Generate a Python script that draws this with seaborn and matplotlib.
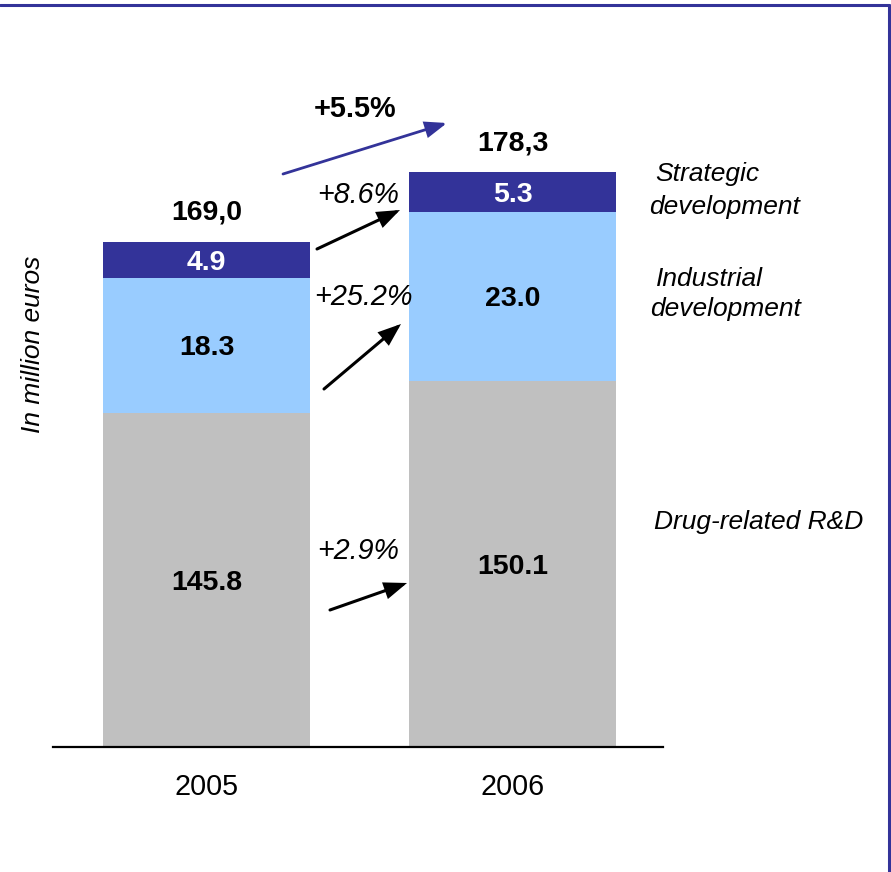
import matplotlib
matplotlib.use("Agg")
import matplotlib.pyplot as plt
from matplotlib.patches import FancyArrowPatch
from matplotlib.lines import Line2D
import seaborn as sns
import pandas as pd
import numpy as np

# ---- data ----
years = ["2005", "2006"]
drug_rd = [145.8, 150.1]
industrial = [18.3, 23.0]
strategic = [4.9, 5.3]
total_labels = ["169,0", "178,3"]
growth_total = "+5.5%"
growth_strategic = "+8.6%"
growth_industrial = "+25.2%"
growth_drug = "+2.9%"
series_names = ["Strategic", "development", "Industrial", "development", "Drug-related R&D"]

C_GREY = "#C0C0C0"
C_LIGHT = "#99CCFF"
C_DARK = "#333399"

sns.set_theme(style="white")
plt.rcParams['font.family'] = ['Liberation Sans', 'DejaVu Sans']

W, H = 891, 872
fig = plt.figure(figsize=(W / 100, H / 100), dpi=100)

# axes placement in pixels
ax_left, ax_right, ax_bottom, ax_top = 53, 663, 747, 60
ax = fig.add_axes([ax_left / W, (H - ax_bottom) / H,
                   (ax_right - ax_left) / W, (ax_bottom - ax_top) / H])

df = pd.DataFrame({"year": years, "drug": drug_rd, "ind": industrial, "strat": strategic})
df["c1"] = df["drug"]
df["c2"] = df["drug"] + df["ind"]
df["c3"] = df["c2"] + df["strat"]

bw = 0.676
sns.barplot(data=df, x="year", y="c3", color=C_DARK, saturation=1, width=bw,
            linewidth=0, ax=ax)
sns.barplot(data=df, x="year", y="c2", color=C_LIGHT, saturation=1, width=bw,
            linewidth=0, ax=ax)
sns.barplot(data=df, x="year", y="c1", color=C_GREY, saturation=1, width=bw,
            linewidth=0, ax=ax)

# truncated value axis (the chart starts well above zero)
px_per_unit = 7.38
y0 = 100.54
ax.set_ylim(y0, y0 + (ax_bottom - ax_top) / px_per_unit)
ax.set_xlim(-0.502, 1.492)

for s in ["top", "right", "left"]:
    ax.spines[s].set_visible(False)
ax.spines["bottom"].set_color("black")
ax.spines["bottom"].set_linewidth(1.6)
ax.set_yticks([])
ax.set_xlabel("")
ax.set_ylabel("")
ax.tick_params(axis="x", length=0, pad=18.5, labelsize=20.7, colors="black")

DY = -3  # small downward nudge (pixels) for centred labels


def seg_label(i, y, s, color):
    ax.annotate(s, xy=(i, y), xytext=(0, DY), textcoords="offset pixels",
                ha="center", va="center", fontsize=20.5, fontweight="bold",
                color=color)


# segment labels
for i in range(len(years)):
    lo = max(y0, 0)
    seg_label(i, (lo + df["c1"][i]) / 2, f"{drug_rd[i]:.1f}", "black")
    seg_label(i, (df["c1"][i] + df["c2"][i]) / 2, f"{industrial[i]:.1f}", "black")
    seg_label(i, (df["c2"][i] + df["c3"][i]) / 2, f"{strategic[i]:.1f}", "white")
    ax.annotate(total_labels[i], xy=(i, df["c3"][i]), xytext=(0, 29),
                textcoords="offset pixels", ha="center", va="center",
                fontsize=20.5, fontweight="bold", color="black")


def P(x, y):
    """reference pixel (top-left origin) -> figure pixels"""
    return (x, H - y)


def ftext(x, y, s, **kw):
    fig.text(x / W, 1 - y / H, s, **kw)


def arrow(p0, p1, color, lw=2.2, ms=28):
    a = FancyArrowPatch(P(*p0), P(*p1), transform=None,
                        arrowstyle="-|>,head_length=0.45,head_width=0.17",
                        mutation_scale=ms, color=color, lw=lw,
                        shrinkA=0, shrinkB=0, joinstyle="miter")
    fig.patches.append(a)


# growth annotations
ftext(355, 109, growth_total, ha="center", va="center", fontsize=20.8,
      fontweight="bold", color="black")
arrow((283, 174), (447, 123), C_DARK, lw=2.0)

ftext(358, 195, growth_strategic, ha="center", va="center", fontsize=20.6,
      style="italic", color="black")
arrow((317, 249), (400, 210), "black")

ftext(363, 297, growth_industrial, ha="center", va="center", fontsize=20.8,
      style="italic", color="black")
arrow((324, 389), (401, 324), "black")

ftext(358, 551, growth_drug, ha="center", va="center", fontsize=20.6,
      style="italic", color="black")
arrow((330, 610), (407, 583), "black")

# series names on the right
name_pos = [(655, 180.5), (649, 213.5), (656, 285.7), (650, 315.5), (654, 529.3)]
for name, (x, y) in zip(series_names, name_pos):
    ftext(x, y, name, ha="left", va="baseline", fontsize=19, style="italic",
          color="black")

# y label
ftext(33, 344, "In million euros", ha="center", va="center", rotation=90,
      fontsize=19, style="italic", color="black")

# frame lines (top and right)
fig.lines.append(Line2D([0, 889 / W], [1 - 5.5 / H, 1 - 5.5 / H],
                        transform=fig.transFigure, color=C_DARK, lw=2.2))
fig.lines.append(Line2D([889 / W, 889 / W], [0, 1 - 5.5 / H],
                        transform=fig.transFigure, color=C_DARK, lw=2.2))

fig.savefig("out.png", dpi=100)
